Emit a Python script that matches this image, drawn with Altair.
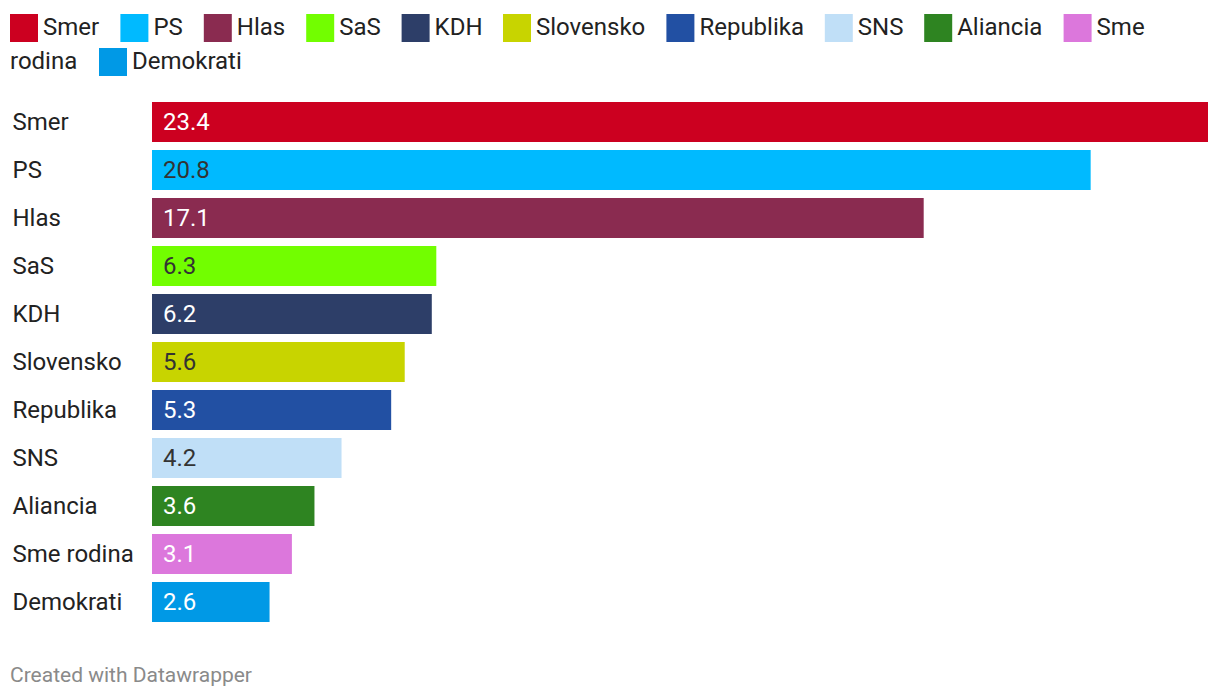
import altair as alt
import pandas as pd

PARTIES = ["Smer", "PS", "Hlas", "SaS", "KDH", "Slovensko", "Republika",
           "SNS", "Aliancia", "Sme rodina", "Demokrati"]
VALUES = [23.4, 20.8, 17.1, 6.3, 6.2, 5.6, 5.3, 4.2, 3.6, 3.1, 2.6]
COLORS = ["#cc0020", "#00baff", "#8a2b50", "#72fe00", "#2d3e68", "#c8d400",
          "#2250a3", "#c0dff7", "#2e8421", "#dc77dc", "#0099e6"]
LIGHT_BARS = ["PS", "SaS", "Slovensko", "SNS"]
LEGEND_ROW1 = PARTIES[:10]
LEGEND_ROW2 = PARTIES[10:]
# the legend wraps "Sme rodina" after its first word, as in the reference
WRAP_LABEL = "Sme rodina"
WRAP_FIRST, WRAP_REST = "Sme", "rodina"
FOOTER = "Created with Datawrapper"

df = pd.DataFrame({"party": PARTIES, "value": VALUES})

FONT = "Roboto"
TEXT = "#222222"

common_legend = dict(
    orient="none",
    direction="horizontal",
    symbolType="square",
    symbolSize=784,
    symbolStrokeWidth=0,
    symbolOpacity=1,
    labelFont=FONT,
    labelFontSize=24,
    labelColor=TEXT,
    labelOffset=5,
    columnPadding=20.4,
    padding=0,
    labelLimit=300,
)

base = alt.Chart(df).encode(
    y=alt.Y(
        "party:N",
        sort=PARTIES,
        scale=alt.Scale(paddingInner=8 / 48, paddingOuter=0),
        axis=alt.Axis(
            title=None,
            ticks=False,
            tickSize=0,
            domain=False,
            grid=False,
            labelAlign="left",
            labelBaseline="middle",
            labelPadding=140,
            labelFont=FONT,
            labelFontSize=24,
            labelColor=TEXT,
            labelLimit=300,
            labelOffset=1,
        ),
    )
)

xenc = alt.X("value:Q", scale=alt.Scale(domain=[0, 23.4], nice=False), axis=None)

bars = base.mark_bar().encode(
    x=xenc,
    color=alt.Color(
        "party:N",
        scale=alt.Scale(domain=PARTIES, range=COLORS),
        legend=alt.Legend(
            title=None,
            legendX=-142,
            legendY=-88,
            values=LEGEND_ROW1,
            labelExpr=f"datum.label == '{WRAP_LABEL}' ? '{WRAP_FIRST}' : datum.label",
            **common_legend,
        ),
    ),
)

bars_row2 = base.mark_bar().encode(
    x=xenc,
    fill=alt.Fill(
        "party:N",
        scale=alt.Scale(domain=LEGEND_ROW2, range=COLORS[10:]),
        legend=alt.Legend(
            title=WRAP_REST,
            titleOrient="left",
            titleFont=FONT,
            titleFontSize=24,
            titleFontWeight="normal",
            titleColor=TEXT,
            titleBaseline="middle",
            titleAnchor="middle",
            titlePadding=21,
            legendX=-142,
            legendY=-54,
            **common_legend,
        ),
    ),
).transform_filter(alt.FieldOneOfPredicate(field="party", oneOf=LEGEND_ROW2))

labels = base.mark_text(
    align="left", baseline="middle", dx=11, dy=0.5, font=FONT, fontSize=24
).encode(
    x=alt.datum(0),
    text=alt.Text("value:Q", format=".1f"),
    color=alt.condition(
        alt.FieldOneOfPredicate(field="party", oneOf=LIGHT_BARS),
        alt.value("#333333"),
        alt.value("#ffffff"),
    ),
)

chart = (
    alt.layer(bars, bars_row2, labels)
    .properties(
        width=1056,
        height=520,
        background="white",
        autosize=alt.AutoSizeParams(type="none"),
        padding={"left": 144, "top": 94, "right": 4, "bottom": 70},
        title=alt.TitleParams(
            text=FOOTER,
            orient="bottom",
            anchor="start",
            dx=0,
            offset=60,
            baseline="alphabetic",
            font=FONT,
            fontSize=21,
            fontWeight="normal",
            color="#8a8a8a",
        ),
    )
    .configure_view(strokeWidth=0)
)

chart.save("out.html", embed_options={"renderer": "svg", "actions": False})
